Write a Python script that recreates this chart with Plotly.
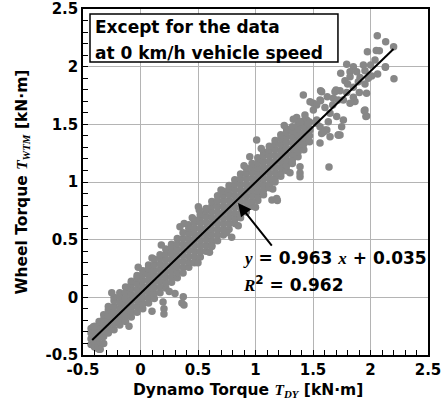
import plotly.graph_objects as go

# ---------------- data ----------------
tick_vals = [-0.5, 0, 0.5, 1, 1.5, 2, 2.5]
tick_text = ["-0.5", "0", "0.5", "1", "1.5", "2", "2.5"]

fit_slope = 0.963
fit_intercept = 0.035
fit_x = [-0.42, 2.2]

# dense band of measurements, read column by column (x in kN·m, y values in kN·m)
band_cols_x = [-0.43, -0.40, -0.36, -0.32, -0.28, -0.23, -0.18, -0.13, -0.08, -0.03,
               0.02, 0.07, 0.12, 0.17, 0.22, 0.27, 0.32, 0.37, 0.42, 0.47,
               0.52, 0.57, 0.62, 0.67, 0.72, 0.77, 0.82, 0.87, 0.92, 0.97,
               1.02, 1.07, 1.12, 1.17, 1.22, 1.27, 1.32, 1.37, 1.42, 1.47]
band_cols_y = [
    [-0.41, -0.36, -0.31, -0.27],
    [-0.43, -0.38, -0.33, -0.29, -0.25],
    [-0.45, -0.40, -0.35, -0.30, -0.25, -0.21],
    [-0.40, -0.34, -0.29, -0.24, -0.19, -0.15],
    [-0.31, -0.26, -0.21, -0.16, -0.11, -0.08],
    [-0.28, -0.23, -0.18, -0.13, -0.08, -0.03, 0.00],
    [-0.24, -0.195, -0.145, -0.095, -0.045, 0.005, 0.04],
    [-0.21, -0.16, -0.11, -0.06, -0.01, 0.04, 0.09],
    [-0.17, -0.125, -0.075, -0.025, 0.025, 0.075, 0.12, 0.14],
    [-0.13, -0.08, -0.03, 0.02, 0.07, 0.12, 0.17, 0.19],
    [-0.10, -0.055, -0.005, 0.045, 0.095, 0.145, 0.195, 0.23],
    [-0.05, 0.00, 0.05, 0.10, 0.15, 0.20, 0.25, 0.28],
    [-0.01, 0.035, 0.085, 0.135, 0.185, 0.235, 0.285, 0.33],
    [0.04, 0.09, 0.14, 0.19, 0.24, 0.29, 0.34, 0.37],
    [0.08, 0.125, 0.175, 0.225, 0.275, 0.325, 0.375, 0.42],
    [0.13, 0.18, 0.23, 0.28, 0.33, 0.38, 0.43, 0.46],
    [0.17, 0.215, 0.265, 0.315, 0.365, 0.415, 0.465, 0.51],
    [0.21, 0.26, 0.31, 0.36, 0.41, 0.46, 0.51, 0.56],
    [0.26, 0.305, 0.355, 0.405, 0.455, 0.505, 0.555, 0.60, 0.63],
    [0.30, 0.35, 0.40, 0.45, 0.50, 0.55, 0.60, 0.65, 0.67],
    [0.35, 0.395, 0.445, 0.495, 0.545, 0.595, 0.645, 0.695, 0.72],
    [0.40, 0.45, 0.50, 0.55, 0.60, 0.65, 0.70, 0.75, 0.77],
    [0.45, 0.49, 0.54, 0.59, 0.64, 0.69, 0.74, 0.79, 0.83],
    [0.49, 0.54, 0.59, 0.64, 0.69, 0.74, 0.79, 0.84, 0.88],
    [0.54, 0.585, 0.635, 0.685, 0.735, 0.785, 0.835, 0.885, 0.92],
    [0.59, 0.64, 0.69, 0.74, 0.79, 0.84, 0.89, 0.94, 0.97],
    [0.64, 0.68, 0.73, 0.78, 0.83, 0.88, 0.93, 0.98, 1.02],
    [0.69, 0.73, 0.78, 0.83, 0.88, 0.93, 0.98, 1.03, 1.07],
    [0.74, 0.775, 0.825, 0.875, 0.925, 0.975, 1.025, 1.075, 1.12],
    [0.79, 0.83, 0.88, 0.93, 0.98, 1.03, 1.08, 1.13, 1.16],
    [0.84, 0.87, 0.92, 0.97, 1.02, 1.07, 1.12, 1.17, 1.21],
    [0.89, 0.93, 0.98, 1.03, 1.08, 1.13, 1.18, 1.23, 1.26],
    [0.95, 0.975, 1.025, 1.075, 1.125, 1.175, 1.225, 1.275, 1.31],
    [1.00, 1.03, 1.08, 1.13, 1.18, 1.23, 1.28, 1.33, 1.36],
    [1.05, 1.075, 1.125, 1.175, 1.225, 1.275, 1.325, 1.375, 1.41],
    [1.10, 1.14, 1.19, 1.24, 1.29, 1.34, 1.39, 1.43, 1.46],
    [1.16, 1.19, 1.24, 1.29, 1.34, 1.39, 1.44, 1.48],
    [1.22, 1.26, 1.31, 1.36, 1.41, 1.46, 1.51],
    [1.28, 1.33, 1.38, 1.43, 1.48, 1.53],
    [1.35, 1.40, 1.46, 1.52],
]

# scattered points outside the dense band
sparse_x = [-0.41, -0.37, -0.35, -0.02, 0.181, 0.196, 0.204, 0.204, 0.30, 0.36, 0.372, 0.378,
            0.343, 0.503, 0.511, 0.793, 1.01, 1.143, 1.19, 1.184, 1.387, 1.387, 1.387,
            1.639, 1.561, 1.575, 1.62, 1.416,
            0.10, 0.45, 0.70, 0.90, 1.05, 1.25, 0.60, 0.85, 1.00, 1.30, 0.10, -0.10, 0.50,
            -0.25, 0.25, 0.62, 1.15, 0.95, 0.38, 0.75,
            1.445, 1.474, 1.503, 1.532, 1.561, 1.575, 1.604, 1.648, 1.677, 1.691, 1.706, 1.72,
            1.749, 1.764, 1.764, 1.741, 1.793, 1.851, 1.865, 1.938, 1.952, 1.96, 1.973,
            2.01, 2.059, 2.132, 2.201, 2.077, 2.204, 2.129, 2.039, 2.001, 1.822, 1.88, 1.952,
            1.822, 1.778, 1.909, 1.981, 2.062, 1.801, 1.851, 1.894, 1.952, 1.735, 1.793,
            1.851, 1.903, 1.966, 1.822, 1.946, 1.966, 1.566, 1.70, 1.624, 1.566, 1.474,
            1.532, 1.604, 1.671, 1.72, 1.503, 1.43, 1.358, 1.329, 1.387, 1.459, 1.561,
            1.633, 1.648, 1.72, 1.595, 1.532, 1.735, 2.13, 2.05]
sparse_y = [-0.255, -0.443, -0.45, 0.26, 0.453, -0.04, -0.10, -0.145, 0.034, -0.05, 0.005, -0.067,
            0.612, 0.786, 0.757, 0.52, 1.364, 0.843, 0.84, 0.858, 1.132, 1.046, 1.078,
            1.13, 1.338, 1.42, 1.45, 1.754,
            0.34, 0.69, 0.93, 1.14, 1.29, 1.49, 0.39, 0.62, 0.78, 1.08, -0.12, -0.25, 0.30,
            0.04, 0.05, 0.44, 0.94, 1.22, 0.64, 0.56,
            1.538, 1.451, 1.682, 1.509, 1.711, 1.783, 1.451, 1.596, 1.726, 1.783, 1.567, 1.408,
            1.48, 1.538, 1.711, 1.942, 2.02, 2.00, 1.697, 2.015, 1.624, 1.567, 2.13,
            1.919, 2.269, 2.217, 2.173, 2.139, 1.896, 1.996, 2.058, 2.014, 1.956, 1.956, 1.965,
            1.913, 1.878, 1.907, 1.899, 1.936, 1.849, 1.821, 1.870, 1.849, 1.792, 1.777,
            1.734, 1.777, 1.769, 1.682, 1.618, 1.572, 1.792, 1.797, 1.74, 1.705, 1.696,
            1.667, 1.647, 1.667, 1.711, 1.624, 1.581, 1.560, 1.543, 1.523, 1.508, 1.479,
            1.523, 1.393, 1.407, 1.436, 1.537, 1.407, 2.0, 2.14]

# ---------------- build ----------------
pts_x = []
pts_y = []
for cx, ys in zip(band_cols_x, band_cols_y):
    for yv in ys:
        pts_x.append(cx)
        pts_y.append(yv)
pts_x += sparse_x
pts_y += sparse_y

fit_y = [fit_slope * v + fit_intercept for v in fit_x]

GRAY = "#878787"
FONT = "DejaVu Sans"
SERIF = "Liberation Serif"

fig = go.Figure()
fig.add_trace(go.Scatter(x=pts_x, y=pts_y, mode="markers",
                         marker=dict(color=GRAY, size=7.5, line=dict(width=0)),
                         showlegend=False, hoverinfo="skip"))
fig.add_trace(go.Scatter(x=fit_x, y=fit_y, mode="lines",
                         line=dict(color="black", width=2), showlegend=False, hoverinfo="skip"))

axis_common = dict(
    range=[-0.5, 2.5], tickvals=tick_vals, ticktext=["<b>" + t + "</b>" for t in tick_text],
    showgrid=True, gridcolor="#b4b4b4", gridwidth=1,
    showline=True, linecolor="black", linewidth=1.5, mirror=True,
    zeroline=False, ticks="inside", ticklen=5, tickcolor="black",
    minor=dict(ticks="inside", ticklen=5, dtick=0.1, tick0=0, tickcolor="black", showgrid=False),
    tickfont=dict(family=FONT, size=15, color="black"),
    automargin=False, fixedrange=True,
)
fig.update_xaxes(**axis_common)
fig.update_yaxes(**axis_common)


def tsp(s):
    return f"<span style=\"font-family:'{SERIF}'\"><i>{s}</i></span>"


BF = dict(family=FONT, size=17, color="black")
EF = dict(family=FONT, size=17, color="black")
TF = dict(family=FONT, size=15.5, color="black")

annotations = [
    # axis titles
    dict(xref="paper", yref="paper", x=0.478, y=-0.103, xanchor="center", yanchor="middle",
         text="<b>Dynamo Torque " + tsp("T") + "<sub>" + tsp("DY") + "</sub> [kN·m]</b>",
         showarrow=False, font=TF),
    dict(xref="paper", yref="paper", x=-0.178, y=0.5, xanchor="center", yanchor="middle",
         textangle=-90,
         text="<b>Wheel Torque " + tsp("T") + "<sub>" + tsp("WTM") + "</sub> [kN·m]</b>",
         showarrow=False, font=TF),
    # box text
    dict(xref="paper", yref="paper", x=0.030, y=0.948, xanchor="left", yanchor="middle",
         text="<b>Except for the data</b>", showarrow=False, font=BF),
    dict(xref="paper", yref="paper", x=0.030, y=0.874, xanchor="left", yanchor="middle",
         text="<b>at 0 km/h vehicle speed</b>", showarrow=False, font=BF),
    # equation
    dict(xref="paper", yref="paper", x=0.458, y=0.280, xanchor="left", yanchor="middle",
         text="<b>" + tsp("y") + " = 0.963 " + tsp("x") + " + 0.035</b>", showarrow=False, font=EF),
    dict(xref="paper", yref="paper", x=0.458, y=0.205, xanchor="left", yanchor="middle",
         text="<b>" + tsp("R") + "<sup>2</sup> = 0.962</b>", showarrow=False, font=EF),
    # arrow
    dict(x=0.848, y=0.817, ax=1.152, ay=0.436, xref="x", yref="y", axref="x", ayref="y",
         text="", showarrow=True, arrowhead=2, arrowsize=1.3, arrowwidth=2, arrowcolor="black"),
]

fig.update_layout(
    width=443, height=412,
    margin=dict(l=83, r=15, t=9, b=57, autoexpand=False),
    paper_bgcolor="white", plot_bgcolor="white",
    annotations=annotations,
    shapes=[dict(type="rect", xref="paper", yref="paper", x0=0.0203, x1=0.739, y0=0.847, y1=0.9855,
                 fillcolor="white", line=dict(color="black", width=1.5), layer="above")],
)

fig.write_html("out.html", config={"displayModeBar": False},
               post_script="document.body.style.margin='0px';")
